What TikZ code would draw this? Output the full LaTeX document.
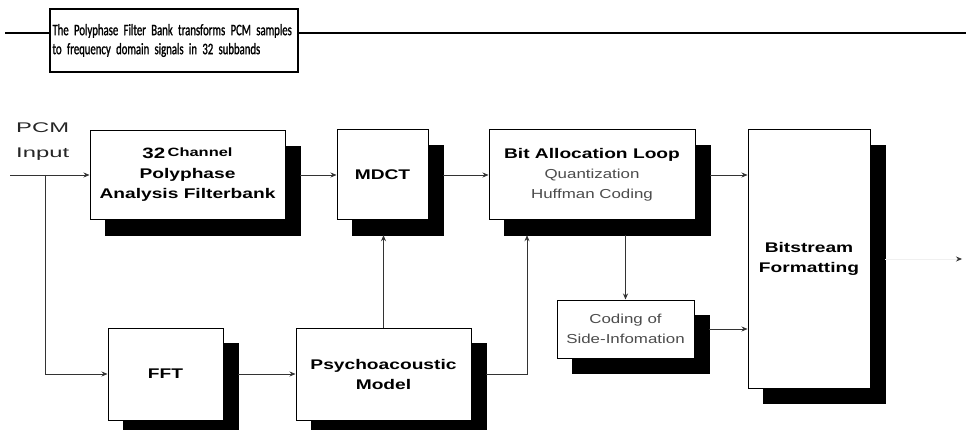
\documentclass[tikz,border=0pt]{standalone}
\usepackage{fontspec}
\usetikzlibrary{arrows.meta}
\newfontfamily\arialx[FakeStretch=1.37]{Liberation Sans}
\newfontfamily\arialr[FakeStretch=1.3]{Liberation Sans}
\newfontfamily\arialw[FakeStretch=1.7]{Liberation Sans}
\newfontfamily\titlefont[FakeStretch=0.67,FakeBold=1.2]{Carlito}
\tikzset{
  blk/.style={draw=black, line width=1pt, fill=white, inner sep=0pt, align=center,
     font=\arialx\bfseries\fontsize{14}{20}\selectfont, text=black},
  shd/.style={fill=black, draw=black, inner sep=0pt},
  conn/.style={draw=black!80, line width=0.7pt, -{Stealth[length=6pt,width=5pt]}},
  reg/.style={font=\arialr\mdseries\fontsize{13}{20}\selectfont, text=black!70}
}
\begin{document}
\begin{tikzpicture}[x=1pt,y=-1pt]
\useasboundingbox (0,0) rectangle (966,430);
% title
\node[draw=black, line width=1.3pt, minimum width=248pt, minimum height=63pt, inner sep=0pt,
      text width=243pt, align=left, font=\titlefont\fontsize{16}{19}\selectfont] (title) at (174,40.5)
  {The Polyphase Filter Bank transforms PCM samples\\to frequency domain signals in 32 subbands};
\coordinate (tl) at (5,33);
\coordinate (tr) at (966,33);
\draw[line width=1.3pt] (tl) -- (tl -| title.west);
\draw[line width=1.3pt] (title.east |- tr) -- (tr);
% PCM input label
\node[anchor=north west, align=left, inner sep=0pt, font=\arialw\fontsize{14}{25}\selectfont, text=black!85] (pcm) at (16,123) {PCM\\Input};
% shadows
\node[shd, minimum width=195pt, minimum height=89pt] (pfbS) at (202.5,190.5) {};
\node[shd, minimum width=91pt, minimum height=90pt] (mdctS) at (397.5,190) {};
\node[shd, minimum width=206pt, minimum height=90pt] (balS) at (607,190) {};
\node[shd, minimum width=122pt, minimum height=258pt] (bsfS) at (824,274) {};
\node[shd, minimum width=137pt, minimum height=58pt] (csiS) at (640.5,344) {};
\node[shd, minimum width=115pt, minimum height=92pt] (fftS) at (180.5,389) {};
\node[shd, minimum width=175pt, minimum height=92pt] (psyS) at (398.5,389) {};
% boxes
\node[blk, minimum width=195pt, minimum height=89pt] (pfb) at (187.5,175)
  {{\fontsize{15}{20}\selectfont 32}\,\raisebox{2pt}{\fontsize{12}{20}\selectfont Channel}\\Polyphase\\Analysis Filterbank};
\node[blk, minimum width=91pt, minimum height=90pt] (mdct) at (382.5,175) {MDCT};
\node[blk, minimum width=206pt, minimum height=90pt] (bal) at (592,175)
  {Bit Allocation Loop\\{\arialr\mdseries\fontsize{13}{20}\selectfont\color{black!70}Quantization}\\{\arialr\mdseries\fontsize{13}{20}\selectfont\color{black!70}Huffman Coding}};
\node[blk, minimum width=122pt, minimum height=258pt] (bsf) at (809,259) {Bitstream\\Formatting};
\node[blk, minimum width=137pt, minimum height=58pt, reg] (csi) at (625.5,329) {Coding of\\Side-Infomation};
\node[blk, minimum width=115pt, minimum height=92pt] (fft) at (165.5,374) {FFT};
\node[blk, minimum width=175pt, minimum height=92pt] (psy) at (383.5,374) {Psychoacoustic\\Model};
% connectors
\coordinate (in) at (10,175);
\coordinate (j) at (45,175);
\coordinate (bp) at (527,0);
\coordinate (out) at (962,259);
\draw[conn] (in) -- (in -| pfb.west);
\draw[conn] (j) |- (fft.west);
\draw[conn] (pfb.east -| pfbS.east) -- (mdct.west);
\draw[conn] (mdct.east -| mdctS.east) -- (bal.west);
\draw[conn] (bal.east -| balS.east) -- (bal.east -| bsf.west);
\draw[conn] (csi.east -| csiS.east) -- (csi.east -| bsf.west);
\draw[draw=black!6, line width=0.7pt, -{Stealth[length=6pt,width=5pt,color=black!80]}] (bsf.east -| bsfS.east) -- (out);
\draw[conn] (fft.east -| fftS.east) -- (psy.west);
\draw[conn] (psy.north) -- (psy.north |- mdctS.south);
\draw[conn] (psy.east -| psyS.east) -| (bp |- balS.south);
\draw[conn] (csi.north |- balS.south) -- (csi.north);
\end{tikzpicture}
\end{document}
